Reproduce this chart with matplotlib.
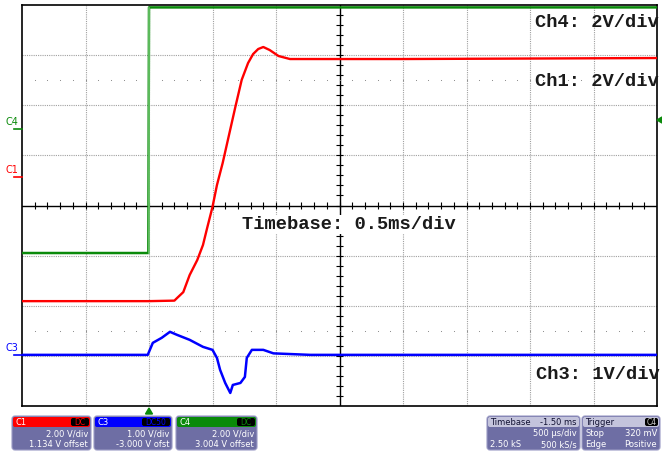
import matplotlib.pyplot as plt
from matplotlib.patches import FancyBboxPatch, Polygon

# time in ms relative to trigger, values in volts
ch1_time = [-1.0, 0.0, 0.20, 0.22, 0.27, 0.32, 0.38, 0.425, 0.457, 0.50, 0.535,
            0.58, 0.63, 0.68, 0.73, 0.78, 0.82, 0.86, 0.90, 0.95, 1.02, 1.11,
            2.0, 3.0, 4.0]
ch1_volts = [-4.95, -4.95, -4.93, -4.83, -4.59, -3.91, -3.31, -2.71, -2.05, -1.19, -0.32,
             0.56, 1.68, 2.80, 3.88, 4.55, 4.91, 5.11, 5.19, 5.07, 4.83, 4.71,
             4.71, 4.73, 4.75]

ch3_time = [-1.0, -0.01, 0.03, 0.10, 0.165, 0.22, 0.32, 0.425, 0.50, 0.535, 0.56,
            0.60, 0.64, 0.66, 0.72, 0.755, 0.77, 0.81, 0.90, 0.98, 1.27, 4.0]
ch3_volts = [0.02, 0.02, 0.26, 0.36, 0.48, 0.42, 0.32, 0.18, 0.12, -0.04, -0.28,
             -0.54, -0.74, -0.58, -0.54, -0.42, -0.04, 0.12, 0.12, 0.05, 0.02, 0.02]

ch4_time = [-1.0, -0.005, 0.0, 4.0]
ch4_volts = [-4.90, -4.90, 4.90, 4.90]

# channel settings (V/div, offset V)
ch1_scale, ch1_offset = 2.0, 1.134
ch3_scale, ch3_offset = 1.0, -3.000
ch4_scale, ch4_offset = 2.0, 3.004

channel_labels = ["Ch4: 2V/div", "Ch1: 2V/div", "Timebase: 0.5ms/div", "Ch3: 1V/div"]

info_names = ["C1", "C3", "C4"]
info_coupling = ["DC", "DC50", "DC"]
info_vdiv = ["2.00 V/div", "1.00 V/div", "2.00 V/div"]
info_offset = ["1.134 V offset", "-3.000 V ofst", "3.004 V offset"]

RED = "#ff0000"
BLUE = "#0000ff"
GREEN = "#0a8a0a"
BOX = "#6e6ea4"


def to_div(volts, scale, offset):
    return [(v + offset) / scale for v in volts]


fig = plt.figure(figsize=(6.62, 4.55), dpi=100)

ax = fig.add_axes([22 / 662, 1 - 406 / 455, 635 / 662, 401 / 455])
ax.set_xlim(-1.0, 4.0)
ax.set_ylim(-4, 4)
ax.set_xticks([])
ax.set_yticks([])
for s in ax.spines.values():
    s.set_color("black")
    s.set_linewidth(1.2)

# pixel overlay for labels and the info panel
ov = fig.add_axes([0, 0, 1, 1])
ov.set_xlim(0, 662)
ov.set_ylim(455, 0)
ov.axis("off")
ov.patch.set_alpha(0)

# graticule
grid_kw = dict(color="#a0a0a0", lw=0.8, ls=(0, (1, 1)), zorder=1)
for k in range(1, 10):
    if k != 5:
        ax.axvline(-1.0 + 0.5 * k, **grid_kw)
for y in range(-3, 4):
    if y != 0:
        ax.axhline(y, **grid_kw)
ax.axhline(0, color="black", lw=1.0, zorder=1)
ax.axvline(1.5, color="black", lw=1.0, zorder=1)
minor_x = [-1.0 + 0.1 * i for i in range(1, 50)]
minor_y = [-4 + 0.2 * i for i in range(1, 40)]
ax.vlines(minor_x, -0.07, 0.07, color="black", lw=0.8, zorder=1)
ax.hlines(minor_y, 1.5 - 0.025, 1.5 + 0.025, color="black", lw=0.8, zorder=1)
for yy in (2.5, -2.5):
    ax.scatter(minor_x, [yy] * len(minor_x), s=0.6, color="#808080", zorder=1, lw=0)

# traces
ax.plot(ch4_time, to_div(ch4_volts, ch4_scale, ch4_offset), color=GREEN, lw=1.8, zorder=3)
ax.plot([0.0, 0.0], [to_div([-4.9], ch4_scale, ch4_offset)[0], 3.95], color="#6cc46c",
        lw=1.2, zorder=3)
ax.plot(ch1_time, to_div(ch1_volts, ch1_scale, ch1_offset), color=RED, lw=1.7, zorder=4)
ax.plot(ch3_time, to_div(ch3_volts, ch3_scale, ch3_offset), color=BLUE, lw=1.8, zorder=4)

# channel text
mono = dict(family="Liberation Mono", fontsize=13.5, fontweight="bold", color="#1a1a1a")
ov.text(535, 27, channel_labels[0], ha="left", va="baseline", zorder=10, **mono)
ov.text(535, 86, channel_labels[1], ha="left", va="baseline", zorder=10, **mono)
ov.text(242, 229, channel_labels[2], ha="left", va="baseline", zorder=10,
        bbox=dict(facecolor="white", edgecolor="none", pad=1), **mono)
ov.text(536, 379, channel_labels[3], ha="left", va="baseline", zorder=10, **mono)

# left channel markers
small = dict(family="DejaVu Sans", fontsize=7)
for lbl, col, ypx in (("C4", GREEN, 129), ("C1", RED, 177), ("C3", BLUE, 355)):
    ov.text(6, ypx - 2, lbl, color=col, ha="left", va="bottom", **small)
    ov.plot([14, 22], [ypx, ypx], color=col, lw=1.2)

# trigger markers
ov.add_patch(Polygon([[657, 120], [662, 117], [662, 123]], closed=True, color=GREEN))
ov.add_patch(Polygon([[149, 408], [145.5, 414], [152.5, 414]], closed=True, color=GREEN))

# channel info boxes
txt = dict(family="DejaVu Sans", fontsize=6, color="white")
box_x = [12, 94, 176]
box_w = [79, 78, 81]
head_col = [RED, BLUE, GREEN]
for i in range(3):
    x0, w = box_x[i], box_w[i]
    ov.add_patch(FancyBboxPatch((x0, 416), w, 34, boxstyle="round,pad=0,rounding_size=3",
                                facecolor=BOX, edgecolor="#9a9ac4", lw=0.8))
    ov.add_patch(FancyBboxPatch((x0 + 1, 417), w - 2, 10, boxstyle="round,pad=0,rounding_size=2",
                                facecolor=head_col[i], edgecolor="none"))
    ov.text(x0 + 3, 422.5, info_names[i], ha="left", va="center", **txt)
    bw = 8 + 5 * len(info_coupling[i])
    ov.add_patch(FancyBboxPatch((x0 + w - bw - 2, 418), bw, 8, boxstyle="round,pad=0,rounding_size=2",
                                facecolor="black", edgecolor="none"))
    ov.text(x0 + w - 2 - bw / 2, 422.5, info_coupling[i], ha="center", va="center",
            family="DejaVu Sans", fontsize=5.5, color=head_col[i])
    ov.text(x0 + w - 3, 434, info_vdiv[i], ha="right", va="center", **txt)
    ov.text(x0 + w - 3, 444.5, info_offset[i], ha="right", va="center", **txt)

# timebase / trigger boxes
for x0, w in ((487, 93), (582, 78)):
    ov.add_patch(FancyBboxPatch((x0, 416), w, 34, boxstyle="round,pad=0,rounding_size=3",
                                facecolor=BOX, edgecolor="#9a9ac4", lw=0.8))
    ov.add_patch(FancyBboxPatch((x0 + 1, 417), w - 2, 10, boxstyle="round,pad=0,rounding_size=2",
                                facecolor="#c4c4dc", edgecolor="none"))
dark = dict(family="DejaVu Sans", fontsize=6, color="#111133")
ov.text(490, 422.5, "Timebase", ha="left", va="center", **dark)
ov.text(577, 422.5, "-1.50 ms", ha="right", va="center", **dark)
ov.text(577, 434, "500 \u00b5s/div", ha="right", va="center", **txt)
ov.text(490, 444.5, "2.50 kS", ha="left", va="center", **txt)
ov.text(577, 444.5, "500 kS/s", ha="right", va="center", **txt)
ov.text(585, 422.5, "Trigger", ha="left", va="center", **dark)
ov.add_patch(FancyBboxPatch((645, 418), 13, 8, boxstyle="round,pad=0,rounding_size=2",
                            facecolor="black", edgecolor="none"))
ov.text(651.5, 422.5, "C4", ha="center", va="center", family="DejaVu Sans", fontsize=5.5,
        color="#cccccc")
ov.text(585, 434, "Stop", ha="left", va="center", **txt)
ov.text(657, 434, "320 mV", ha="right", va="center", **txt)
ov.text(585, 444.5, "Edge", ha="left", va="center", **txt)
ov.text(657, 444.5, "Positive", ha="right", va="center", **txt)

fig.savefig("out.png", dpi=100)
